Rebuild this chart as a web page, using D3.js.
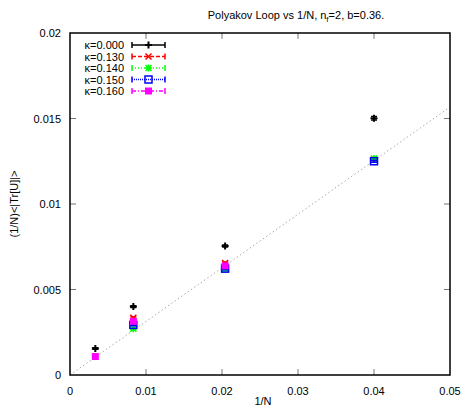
<!DOCTYPE html>
<html>
<head>
<meta charset="utf-8">
<script src="https://d3js.org/d3.v7.min.js"></script>
<style>
body { margin: 0; background: #fff; }
svg { font-family: "Liberation Sans", Arial, sans-serif; }
.tick-label { font-size: 11px; fill: #000; }
</style>
</head>
<body>
<svg width="471" height="412"></svg>
<script>

// data
var invN = [1 / 300, 1 / 120, 1 / 49, 1 / 25];
var kappaLabels = ["\u03ba=0.000", "\u03ba=0.130", "\u03ba=0.140", "\u03ba=0.150", "\u03ba=0.160"];
var k000 = [0.00155, 0.00400, 0.00754, 0.01501];
var k130 = [null, 0.00335, 0.00655, 0.01262];
var k140 = [null, 0.00270, 0.00618, 0.01266];
var k150 = [null, 0.00293, 0.00622, 0.01250];
var k160 = [0.00108, 0.00314, 0.00638, null];
var err000 = [0.00004, 0.00005, 0.00006, 0.00010];
var errOther = [0.00003, 0.00005, 0.00006, 0.00006];
var xTicks = [0, 0.01, 0.02, 0.03, 0.04, 0.05];
var yTicks = [0, 0.005, 0.01, 0.015, 0.02];
var fitSlope = 0.3134;

var series = [
  { name: kappaLabels[0], vals: k000, err: err000, color: "#000000", dash: null, sym: "plus" },
  { name: kappaLabels[1], vals: k130, err: errOther, color: "#ff0000", dash: "4,2", sym: "cross" },
  { name: kappaLabels[2], vals: k140, err: errOther, color: "#00ff00", dash: "1,2", sym: "star" },
  { name: kappaLabels[3], vals: k150, err: errOther, color: "#0000ff", dash: "1,1", sym: "box" },
  { name: kappaLabels[4], vals: k160, err: errOther, color: "#ff00ff", dash: "4,2,1,2", sym: "fbox" }
];

var svg = d3.select("svg");
var pLeft = 70, pRight = 450, pTop = 33, pBottom = 375;

var x = d3.scaleLinear().domain([0, 0.05]).range([pLeft, pRight]);
var y = d3.scaleLinear().domain([0, 0.02]).range([pBottom, pTop]);

// title
var title = svg.append("text")
    .attr("x", 296).attr("y", 19)
    .attr("text-anchor", "middle")
    .style("font-size", "11px");
title.append("tspan").text("Polyakov Loop vs 1/N, n");
title.append("tspan").attr("dy", 3).style("font-size", "8px").text("f");
title.append("tspan").attr("dy", -3).text("=2, b=0.36.");

// ticks (mirrored on all four sides)
var tickG = svg.append("g").attr("stroke", "#777").attr("stroke-width", 1);
xTicks.forEach(function(t) {
  if (t === 0 || t === 0.05) return;
  tickG.append("line").attr("x1", x(t)).attr("x2", x(t)).attr("y1", pBottom).attr("y2", pBottom - 6);
  tickG.append("line").attr("x1", x(t)).attr("x2", x(t)).attr("y1", pTop).attr("y2", pTop + 6);
});
yTicks.forEach(function(t) {
  if (t === 0 || t === 0.02) return;
  tickG.append("line").attr("x1", pLeft).attr("x2", pLeft + 6).attr("y1", y(t)).attr("y2", y(t));
  tickG.append("line").attr("x1", pRight).attr("x2", pRight - 6).attr("y1", y(t)).attr("y2", y(t));
});

svg.selectAll(".xl").data(xTicks).enter().append("text")
    .attr("class", "tick-label")
    .attr("x", function(d) { return x(d); })
    .attr("y", pBottom + 20)
    .attr("text-anchor", "middle")
    .text(function(d) { return d3.format("")(d); });

svg.selectAll(".yl").data(yTicks).enter().append("text")
    .attr("class", "tick-label")
    .attr("x", pLeft - 9)
    .attr("y", function(d) { return y(d) + 4; })
    .attr("text-anchor", "end")
    .text(function(d) { return d3.format("")(d); });

// axis labels
svg.append("text").attr("x", 263).attr("y", 405).attr("text-anchor", "middle")
    .style("font-size", "11px").text("1/N");
svg.append("text")
    .attr("transform", "translate(18," + ((pTop + pBottom) / 2) + ") rotate(-90)")
    .attr("text-anchor", "middle")
    .style("font-size", "11px").text("(1/N)<|Tr[U]|>");

// fit line
svg.append("line")
    .attr("x1", x(0)).attr("y1", y(0))
    .attr("x2", x(0.05)).attr("y2", y(0.05 * fitSlope))
    .attr("stroke", "#aaa").attr("stroke-width", 1)
    .attr("stroke-dasharray", "1.5,2.5");

function drawSymbol(g, cx, cy, s) {
  var c = s.color;
  if (s.sym === "plus") {
    g.append("path").attr("d", "M" + (cx - 3.5) + "," + cy + "h7M" + cx + "," + (cy - 3.5) + "v7")
      .attr("stroke", c).attr("stroke-width", 2);
  } else if (s.sym === "cross") {
    g.append("path").attr("d", "M" + (cx - 3) + "," + (cy - 3) + "l6,6M" + (cx - 3) + "," + (cy + 3) + "l6,-6")
      .attr("stroke", c).attr("stroke-width", 1.5);
  } else if (s.sym === "star") {
    g.append("path").attr("d", "M" + (cx - 3.5) + "," + cy + "h7M" + cx + "," + (cy - 3.5) + "v7M" +
        (cx - 3) + "," + (cy - 3) + "l6,6M" + (cx - 3) + "," + (cy + 3) + "l6,-6")
      .attr("stroke", c).attr("stroke-width", 1.5);
  } else if (s.sym === "box") {
    g.append("rect").attr("x", cx - 3.5).attr("y", cy - 3.5).attr("width", 7).attr("height", 7)
      .attr("fill", "none").attr("stroke", c).attr("stroke-width", 1.5);
  } else {
    g.append("rect").attr("x", cx - 3.5).attr("y", cy - 3.5).attr("width", 7).attr("height", 7)
      .attr("fill", c);
  }
}

// points with error bars
series.forEach(function(s) {
  var g = svg.append("g");
  s.vals.forEach(function(v, i) {
    if (v === null) return;
    var cx = x(invN[i]), y0 = y(v - s.err[i]), y1 = y(v + s.err[i]);
    g.append("path")
      .attr("d", "M" + cx + "," + y0 + "V" + y1 + "M" + (cx - 3) + "," + y0 + "h6M" + (cx - 3) + "," + y1 + "h6")
      .attr("stroke", s.color).attr("stroke-width", 1.5).attr("fill", "none");
    drawSymbol(g, cx, y(v), s);
  });
});

// legend
var legendY = [45, 56.5, 68, 79.5, 91];
series.forEach(function(s, i) {
  var ly = legendY[i];
  var g = svg.append("g");
  g.append("text").attr("x", 124).attr("y", ly + 4).attr("text-anchor", "end")
    .style("font-size", "11px").text(s.name);
  g.append("path")
    .attr("d", "M132," + ly + "H165")
    .attr("stroke", s.color).attr("stroke-width", 1.5)
    .attr("stroke-dasharray", s.dash);
  g.append("path")
    .attr("d", "M132," + (ly - 3) + "v6M165," + (ly - 3) + "v6")
    .attr("stroke", s.color).attr("stroke-width", 1.5);
  drawSymbol(g, 148.5, ly, s);
});

// border
svg.append("rect")
    .attr("x", pLeft).attr("y", pTop)
    .attr("width", pRight - pLeft).attr("height", pBottom - pTop)
    .attr("fill", "none").attr("stroke", "#000").attr("stroke-width", 1.5);

</script>
</body>
</html>
